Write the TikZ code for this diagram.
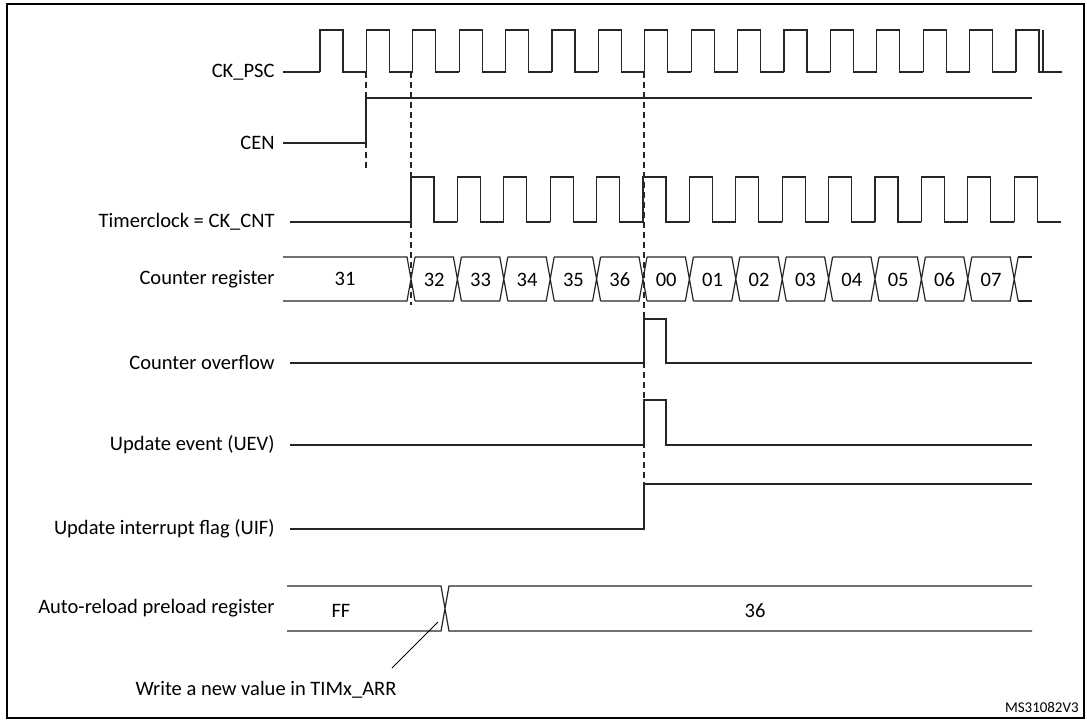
\documentclass[tikz,border=0pt]{standalone}
\usepackage{fontspec}
\setmainfont{Carlito}
\begin{document}
\begin{tikzpicture}[x=0.5bp,y=-0.5bp,
  sig/.style={line width=0.6bp,draw=black!85},
  edge mark/.style={sig,dash pattern=on 3bp off 2bp},
  lbl/.style={anchor=east,font=\fontsize{10.3}{12}\selectfont,inner sep=0pt},
  val/.style={font=\fontsize{10.3}{12}\selectfont,inner sep=0pt}]
  % frame
  \useasboundingbox (0,0) rectangle (1087,721);
  \draw[line width=1.2bp] (7,4) rectangle (1084,718);

  % labels
  \node[lbl] (psc) at (275,72) {CK\_PSC};
  \node[lbl] (cen) at (275,143) {CEN};
  \node[lbl] (cnt) at (275,222) {Timerclock = CK\_CNT};
  \node[lbl] (reg) at (275,279) {Counter register};
  \node[lbl] (ovf) at (275,363) {Counter overflow};
  \node[lbl] (uev) at (275,445) {Update event (UEV)};
  \node[lbl] (uif) at (275,529) {Update interrupt flag (UIF)};
  \node[lbl] (arr) at (275,608) {Auto-reload preload register};

  % CK_PSC
  \draw[sig] (283,72) -- (320,72);
  \foreach \k in {0,...,15}
    \draw[sig] ({320+46.4*\k},72) -- ({320+46.4*\k},30) -- ({343+46.4*\k},30)
      -- ({343+46.4*\k},72) -- ({366.4+46.4*\k},72);
  \draw[sig] (1043,72) -- (1043,30);

  % CEN
  \draw[sig] (283,143) -- (366,143) -- (366,98) -- (1032,98);

  % CK_CNT
  \draw[sig] (290,222) -- (411,222);
  \foreach \k in {0,...,13}
    \draw[sig] ({411+46.4*\k},222) -- ({411+46.4*\k},177) -- ({434+46.4*\k},177)
      -- ({434+46.4*\k},222) -- ({457.4+46.4*\k},222);

  % counter register
  \draw[sig] (283,257) -- (407,257) -- (415,301) (283,301) -- (407,301) -- (415,257);
  \node[val] (v31) at (345,279) {31};
  \foreach \v [count=\k from 0] in {32,33,34,35,36,00,01,02,03,04,05,06,07} {
    \pgfmathsetmacro{\a}{411+46.4*\k}
    \pgfmathsetmacro{\b}{457.4+46.4*\k}
    \draw[sig] (\a+4,257) -- (\b-4,257) -- (\b+4,301) (\a+4,301) -- (\b-4,301) -- (\b+4,257);
    \node[val] at ({(\a+\b)/2},280) {\v};
  }
  \draw[sig] (1018,257) -- (1032,257) (1018,301) -- (1032,301);

  % counter overflow
  \draw[sig] (290,363) -- (644,363) -- (644,319) -- (666,319) -- (666,363) -- (1032,363);
  % update event
  \draw[sig] (290,445) -- (644,445) -- (644,400) -- (666,400) -- (666,445) -- (1032,445);
  % UIF
  \draw[sig] (290,529) -- (644,529) -- (644,484) -- (1032,484);

  % auto-reload register
  \draw[sig] (287,586) -- (441,586) -- (449,631) -- (1032,631)
             (287,631) -- (441,631) -- (449,586) -- (1032,586);
  \node[val] (ff) at (341,611) {FF};
  \node[val] (n36) at (755,611) {36};
  \coordinate (wr) at (438,622);
  \node[val] (note) at (266,690) {Write a new value in TIMx\_ARR};
  \draw[line width=0.5bp] (392,668) -- (wr);

  % edge markers
  \draw[edge mark] (366,72) -- (366,172);
  \draw[edge mark] (411,72) -- (411,305);
  \draw[edge mark] (644,72) -- (644,484);

  \node[font=\fontsize{7.5}{9}\selectfont,anchor=south east,inner sep=0pt] (ref) at (1079,713) {MS31082V3};
\end{tikzpicture}
\end{document}
